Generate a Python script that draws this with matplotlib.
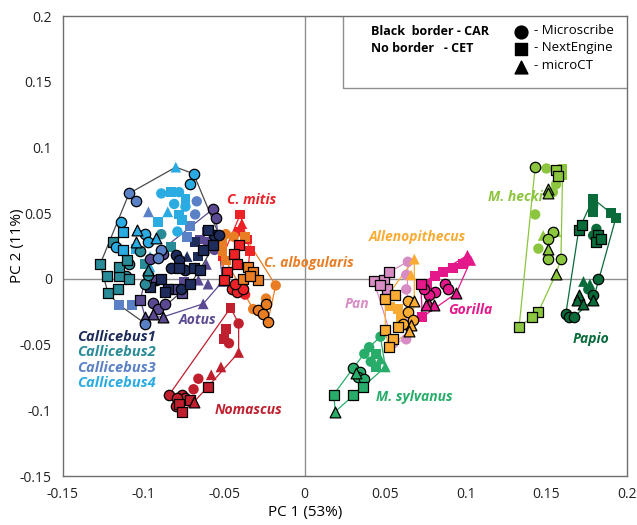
import matplotlib.pyplot as plt
import numpy as np

plt.rcParams['font.family'] = ['Open Sans', 'DejaVu Sans']

# each point: (PC1, PC2, marker, black border = CAR)
callicebus1 = [(-0.080, 0.018, 'o', 1), (-0.078, 0.014, 'o', 1), (-0.073, 0.017, '^', 0),
               (-0.083, 0.008, 'o', 1), (-0.078, 0.008, 's', 1), (-0.069, 0.008, 's', 1),
               (-0.065, 0.007, 's', 1), (-0.074, 0.007, 'o', 1), (-0.089, 0.000, 's', 1),
               (-0.085, -0.008, 's', 1), (-0.077, -0.008, 'o', 1), (-0.087, -0.010, 's', 1),
               (-0.071, -0.004, 's', 1), (-0.060, 0.037, 's', 1), (-0.056, 0.033, 'o', 1),
               (-0.053, 0.033, 'o', 1), (-0.057, 0.026, 's', 1), (-0.063, 0.022, 's', 1),
               (-0.066, 0.017, 's', 0), (-0.068, 0.028, 's', 0), (-0.096, -0.006, 's', 1)]
callicebus2 = [(-0.127, 0.011, 's', 1), (-0.123, 0.002, 's', 1), (-0.122, -0.011, 's', 1),
               (-0.116, -0.008, 's', 1), (-0.115, 0.002, 's', 1), (-0.115, 0.009, 's', 1),
               (-0.110, 0.014, 's', 1), (-0.109, 0.000, 's', 1), (-0.111, 0.002, 'o', 1),
               (-0.099, -0.004, 'o', 1), (-0.097, 0.003, 'o', 1), (-0.097, 0.007, '^', 1),
               (-0.119, 0.028, 's', 1), (-0.102, 0.021, 'o', 1), (-0.109, 0.011, 'o', 1),
               (-0.089, 0.034, 'o', 0), (-0.083, 0.024, 's', 0), (-0.099, 0.011, 's', 0)]
callicebus3 = [(-0.109, 0.065, 'o', 1), (-0.105, 0.059, 'o', 1), (-0.097, 0.051, '^', 0),
               (-0.071, 0.040, 's', 0), (-0.073, 0.032, 's', 0), (-0.068, 0.049, 'o', 0),
               (-0.067, 0.059, 'o', 0), (-0.089, 0.022, 'o', 1), (-0.091, 0.016, 'o', 1),
               (-0.115, -0.020, 's', 0), (-0.107, -0.020, 's', 0), (-0.099, -0.034, 'o', 1)]
callicebus4 = [(-0.080, 0.085, '^', 0), (-0.069, 0.080, 'o', 1), (-0.071, 0.072, 'o', 1),
               (-0.089, 0.065, 'o', 0), (-0.083, 0.066, 's', 0), (-0.078, 0.066, 'o', 0),
               (-0.074, 0.061, 's', 0), (-0.081, 0.057, 'o', 0), (-0.074, 0.055, 'o', 0),
               (-0.078, 0.049, 's', 0), (-0.076, 0.045, 's', 0), (-0.079, 0.036, 'o', 0),
               (-0.085, 0.051, '^', 0), (-0.114, 0.043, 'o', 1), (-0.113, 0.036, 's', 1),
               (-0.104, 0.037, '^', 1), (-0.099, 0.034, 'o', 1), (-0.105, 0.028, '^', 1),
               (-0.097, 0.028, 'o', 1), (-0.092, 0.031, '^', 1), (-0.117, 0.024, 'o', 1),
               (-0.113, 0.022, 's', 1), (-0.105, 0.023, 's', 0), (-0.096, 0.017, '^', 0),
               (-0.096, 0.009, '^', 0), (-0.091, 0.043, 's', 0)]
aotus = [(-0.057, 0.053, 'o', 1), (-0.055, 0.046, 'o', 1), (-0.061, 0.036, 's', 0),
         (-0.065, 0.030, 's', 0), (-0.060, 0.028, 's', 0), (-0.056, 0.022, 'o', 0),
         (-0.061, 0.011, '^', 0), (-0.060, -0.004, '^', 0), (-0.051, -0.002, '^', 0),
         (-0.063, -0.019, '^', 0), (-0.096, 0.015, 'o', 1), (-0.088, 0.019, 'o', 1),
         (-0.092, -0.001, 'o', 1), (-0.081, -0.008, 's', 1), (-0.076, -0.011, 's', 1),
         (-0.075, -0.002, 's', 0), (-0.066, -0.001, '^', 0), (-0.102, -0.016, 's', 1),
         (-0.094, -0.018, 'o', 1), (-0.091, -0.023, 'o', 1), (-0.087, -0.019, 'o', 1),
         (-0.099, -0.029, '^', 1), (-0.094, -0.027, '^', 1), (-0.088, -0.029, '^', 1)]
c_mitis = [(-0.040, 0.049, 's', 0), (-0.039, 0.042, '^', 0), (-0.041, 0.036, 's', 0),
           (-0.036, 0.030, 's', 0), (-0.041, 0.026, 's', 1), (-0.044, 0.019, 's', 1),
           (-0.034, 0.021, 's', 0), (-0.042, 0.011, 's', 1), (-0.048, 0.005, 's', 1),
           (-0.050, -0.001, 's', 1), (-0.045, -0.008, 'o', 1), (-0.042, -0.010, 'o', 1),
           (-0.038, -0.008, 'o', 1), (-0.043, -0.004, 'o', 1), (-0.051, 0.017, 's', 0),
           (-0.037, -0.012, 'o', 0)]
c_albogularis = [(-0.051, 0.028, 's', 0), (-0.049, 0.034, 'o', 0), (-0.051, 0.021, 's', 0),
                 (-0.049, 0.014, 's', 0), (-0.044, 0.032, 'o', 0), (-0.037, 0.032, 's', 0),
                 (-0.035, 0.009, 's', 1), (-0.032, 0.005, 's', 1), (-0.029, -0.001, 's', 1),
                 (-0.038, 0.000, 's', 1), (-0.034, 0.002, 's', 1), (-0.018, -0.005, 'o', 0),
                 (-0.032, -0.023, 'o', 0), (-0.024, -0.015, 'o', 0), (-0.029, -0.024, 'o', 1),
                 (-0.024, -0.019, 'o', 1), (-0.026, -0.027, 'o', 1), (-0.023, -0.033, 'o', 1)]
nomascus = [(-0.046, -0.022, 's', 0), (-0.041, -0.034, 'o', 0), (-0.049, -0.038, 's', 0),
            (-0.050, -0.046, 's', 0), (-0.047, -0.049, 'o', 0), (-0.041, -0.056, '^', 0),
            (-0.052, -0.067, '^', 0), (-0.058, -0.073, '^', 0), (-0.066, -0.076, 'o', 0),
            (-0.060, -0.082, 's', 1), (-0.069, -0.084, 'o', 0), (-0.084, -0.088, 'o', 1),
            (-0.076, -0.088, 'o', 1), (-0.074, -0.091, 'o', 1), (-0.079, -0.091, 'o', 1),
            (-0.078, -0.095, 's', 1), (-0.076, -0.101, 's', 1), (-0.071, -0.092, 's', 1),
            (-0.069, -0.094, '^', 1), (-0.080, -0.097, 'o', 1)]
allenopithecus = [(0.068, 0.015, '^', 0), (0.066, 0.003, '^', 0), (0.050, -0.015, 's', 1),
                  (0.056, -0.012, 's', 1), (0.064, -0.017, 'o', 1), (0.068, -0.017, '^', 1),
                  (0.064, -0.025, 'o', 1), (0.067, -0.031, 'o', 1), (0.061, -0.034, 'o', 1),
                  (0.066, -0.035, '^', 1), (0.065, -0.040, '^', 1), (0.050, -0.039, 's', 1),
                  (0.058, -0.037, 's', 1), (0.055, -0.046, 's', 1), (0.052, -0.052, 's', 1),
                  (0.058, -0.023, 's', 0), (0.060, -0.029, 's', 0), (0.053, -0.021, 's', 0)]
pan = [(0.043, -0.002, 's', 1), (0.049, -0.001, 's', 1), (0.052, 0.005, 's', 1),
       (0.051, -0.008, 's', 1), (0.047, -0.005, 's', 1), (0.064, 0.013, 'o', 0),
       (0.063, 0.003, 'o', 0), (0.063, -0.008, 'o', 0), (0.063, -0.046, 'o', 0),
       (0.055, -0.049, 'o', 0)]
gorilla = [(0.101, 0.018, '^', 0), (0.103, 0.014, '^', 0), (0.098, 0.011, 's', 0),
           (0.092, 0.008, 's', 0), (0.086, 0.005, 's', 0), (0.081, 0.002, 's', 0),
           (0.076, -0.004, 's', 0), (0.087, -0.004, 'o', 1), (0.089, -0.008, 'o', 1),
           (0.081, -0.010, 'o', 1), (0.077, -0.012, 'o', 1), (0.074, -0.008, 'o', 1),
           (0.072, -0.004, 's', 1), (0.077, -0.019, '^', 1), (0.080, -0.020, '^', 1),
           (0.075, -0.020, '^', 1), (0.094, -0.011, '^', 1), (0.073, -0.029, 's', 0)]
m_sylvanus = [(0.040, -0.052, 'o', 0), (0.044, -0.057, 's', 0), (0.037, -0.057, 'o', 0),
              (0.047, -0.061, '^', 0), (0.041, -0.063, 'o', 0), (0.050, -0.067, '^', 0),
              (0.044, -0.067, 's', 0), (0.047, -0.044, 'o', 0), (0.030, -0.068, 'o', 1),
              (0.034, -0.071, 'o', 1), (0.033, -0.075, 'o', 1), (0.037, -0.076, 'o', 1),
              (0.036, -0.082, 's', 1), (0.030, -0.088, 's', 1), (0.018, -0.088, 's', 1),
              (0.019, -0.101, '^', 1), (0.032, -0.072, '^', 1)]
m_hecki = [(0.143, 0.085, 'o', 1), (0.150, 0.084, 'o', 0), (0.156, 0.083, 's', 1),
           (0.157, 0.078, 's', 1), (0.160, 0.084, 's', 0), (0.160, 0.079, 's', 0),
           (0.156, 0.072, 'o', 0), (0.154, 0.066, 'o', 0), (0.151, 0.068, '^', 1),
           (0.151, 0.065, '^', 1), (0.143, 0.049, 'o', 0), (0.148, 0.033, '^', 0),
           (0.156, 0.036, '^', 0), (0.154, 0.036, 'o', 1), (0.151, 0.030, 'o', 1),
           (0.151, 0.023, '^', 1), (0.145, 0.023, 'o', 0), (0.151, 0.015, 'o', 1),
           (0.159, 0.015, 'o', 1), (0.156, 0.004, '^', 1), (0.145, -0.025, 's', 1),
           (0.141, -0.029, 's', 1), (0.133, -0.037, 's', 1)]
papio = [(0.179, 0.061, 's', 0), (0.179, 0.056, 'o', 0), (0.179, 0.051, 's', 0),
         (0.193, 0.046, 's', 0), (0.190, 0.050, 's', 0), (0.170, 0.037, 's', 1),
         (0.172, 0.041, 's', 1), (0.182, 0.033, 's', 1), (0.181, 0.028, 's', 1),
         (0.184, 0.030, 's', 1), (0.181, 0.038, 'o', 0), (0.179, 0.033, 'o', 0),
         (0.182, 0.000, 'o', 1), (0.173, -0.002, '^', 0), (0.176, -0.008, 'o', 0),
         (0.177, -0.004, '^', 0), (0.170, -0.012, '^', 1), (0.169, -0.016, '^', 1),
         (0.173, -0.019, '^', 1), (0.179, -0.016, '^', 1), (0.179, -0.012, 'o', 1),
         (0.162, -0.027, 'o', 1), (0.164, -0.029, 'o', 1), (0.167, -0.029, 'o', 1)]

x_ticks = [-0.15, -0.1, -0.05, 0, 0.05, 0.1, 0.15, 0.2]
y_ticks = [-0.15, -0.1, -0.05, 0, 0.05, 0.1, 0.15, 0.2]

# name, points, colour, label position
species = [
    ('Aotus', aotus, '#5b4a92', (-0.078, -0.031)),
    ('Callicebus1', callicebus1, '#1d2c5b', None),
    ('Callicebus2', callicebus2, '#2a8b98', None),
    ('Callicebus3', callicebus3, '#5a80c6', None),
    ('Callicebus4', callicebus4, '#2aabe2', None),
    ('C. mitis', c_mitis, '#ec2227', (-0.048, 0.060)),
    ('C. albogularis', c_albogularis, '#e87d24', (-0.025, 0.012)),
    ('Nomascus', nomascus, '#c01f2e', (-0.056, -0.100)),
    ('Pan', pan, '#d88cc4', (0.025, -0.019)),
    ('Allenopithecus', allenopithecus, '#f9ab34', (0.040, 0.032)),
    ('Gorilla', gorilla, '#e5188b', (0.089, -0.024)),
    ('M. sylvanus', m_sylvanus, '#27ad69', (0.044, -0.090)),
    ('M. hecki', m_hecki, '#8cc63f', (0.114, 0.062)),
    ('Papio', papio, '#0a6b3a', (0.166, -0.046)),
]


def convex_hull(pts):
    pts = sorted(set(pts))

    def cross(o, a, b):
        return (a[0] - o[0]) * (b[1] - o[1]) - (a[1] - o[1]) * (b[0] - o[0])

    lower, upper = [], []
    for p in pts:
        while len(lower) >= 2 and cross(lower[-2], lower[-1], p) <= 0:
            lower.pop()
        lower.append(p)
    for p in reversed(pts):
        while len(upper) >= 2 and cross(upper[-2], upper[-1], p) <= 0:
            upper.pop()
        upper.append(p)
    h = lower[:-1] + upper[:-1]
    return h + [h[0]]


def draw_hull(ax, points, color):
    h = convex_hull([(p[0], p[1]) for p in points])
    ax.plot([p[0] for p in h], [p[1] for p in h], color=color, lw=0.9, zorder=2)


def draw_points(ax, points, color):
    sizes = {'o': 56, 's': 50, '^': 60}
    for m in ['o', 's', '^']:
        for b in [0, 1]:
            sel = [p for p in points if p[2] == m and p[3] == b]
            if not sel:
                continue
            ax.scatter([p[0] for p in sel], [p[1] for p in sel], marker=m, s=sizes[m],
                       color=color, edgecolors='black' if b else 'none',
                       linewidths=0.9, zorder=3 + b)


fig = plt.figure(figsize=(6.37, 5.25), dpi=100)
ax = fig.add_axes([63 / 637, 1 - 476 / 525, 564 / 637, 460 / 525])

ax.axhline(0, color='#8f8f8f', lw=1, zorder=1)
ax.axvline(0, color='#8f8f8f', lw=1, zorder=1)

# one outline round all four Callicebus samples
draw_hull(ax, callicebus1 + callicebus2 + callicebus3 + callicebus4, '#4a4a4a')
for name, pts, col, pos in species:
    if not name.startswith('Callicebus'):
        draw_hull(ax, pts, col)
for name, pts, col, pos in species:
    draw_points(ax, pts, col)
    if pos is not None:
        ax.text(pos[0], pos[1], name, color=col, fontsize=10, fontweight='bold',
                style='italic', va='center', ha='left', zorder=6)

for i, (name, pts, col, pos) in enumerate(species[1:5]):
    ax.text(-0.141, -0.044 - i * 0.0118, name, color=col, fontsize=10.5,
            fontweight='bold', style='italic', va='center', ha='left')

# key for borders and digitising devices
ax.plot([0.0235, 0.0235, 0.2], [0.2, 0.145, 0.145], color='#8f8f8f', lw=1, zorder=1)
ax.text(0.041, 0.188, 'Black  border - CAR', fontsize=9, fontweight='bold', va='center')
ax.text(0.041, 0.175, 'No border   - CET', fontsize=9, fontweight='bold', va='center')
for m, lab, yy in [('o', '- Microscribe', 0.188), ('s', '- NextEngine', 0.175),
                   ('^', '- microCT', 0.161)]:
    ax.scatter([0.134], [yy], marker=m, s=85, color='black', zorder=5)
    ax.text(0.142, yy + 0.001, lab, fontsize=9.5, va='center')

ax.set_xlim(-0.15, 0.2)
ax.set_ylim(-0.15, 0.2)
ax.set_xticks(x_ticks)
ax.set_yticks(y_ticks)
ax.set_xticklabels([f'{v:g}' for v in x_ticks])
ax.set_yticklabels([f'{v:g}' for v in y_ticks])
ax.tick_params(length=0, labelsize=10, pad=8, colors='#222222')
for s in ax.spines.values():
    s.set_color('#6e6e6e')
    s.set_linewidth(1)
ax.set_xlabel('PC 1 (53%)', fontsize=11)
ax.set_ylabel('PC 2 (11%)', fontsize=11)
ax.xaxis.set_label_coords(0.43, -0.062)
ax.yaxis.set_label_coords(-0.068, 0.5)

fig.savefig('out.png', dpi=100)
